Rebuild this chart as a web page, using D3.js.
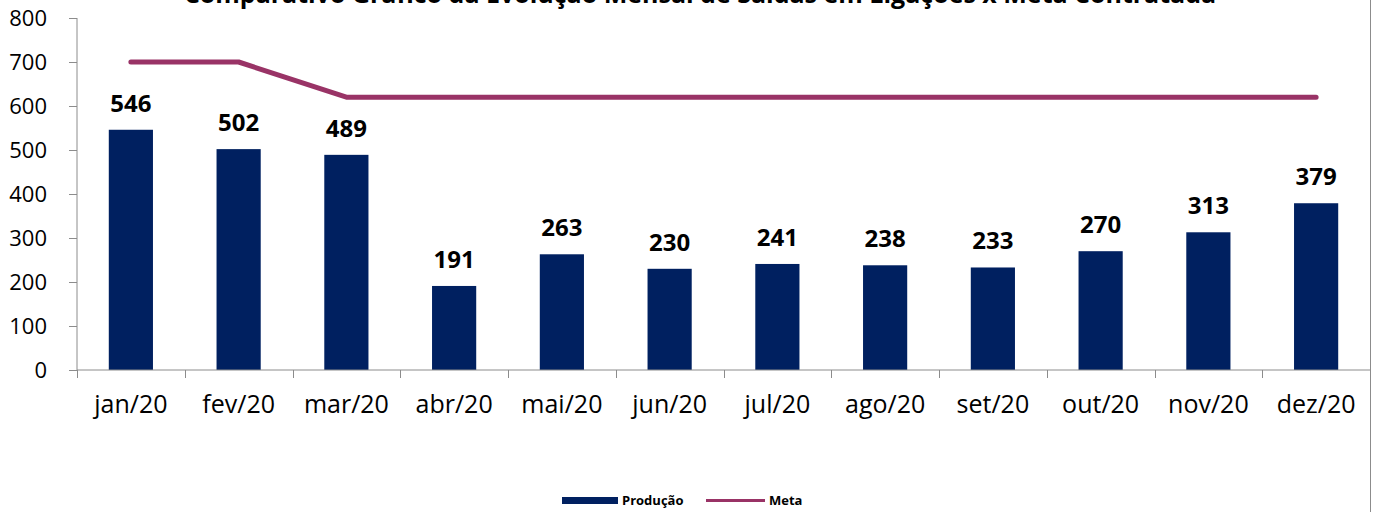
<!DOCTYPE html>
<html>
<head>
<meta charset="utf-8">
<script src="https://cdn.jsdelivr.net/npm/d3@7"></script>
<style>
  html, body { margin: 0; padding: 0; background: #fff; }
  svg { display: block; }
</style>
</head>
<body>
<div id="chart"></div>
<script>
var months   = ["jan/20", "fev/20", "mar/20", "abr/20", "mai/20", "jun/20",
                "jul/20", "ago/20", "set/20", "out/20", "nov/20", "dez/20"];
var producao = [546, 502, 489, 191, 263, 230, 241, 238, 233, 270, 313, 379];
var meta     = [700, 700, 620, 620, 620, 620, 620, 620, 620, 620, 620, 620];
var yTicks   = [0, 100, 200, 300, 400, 500, 600, 700, 800];

var width = 1376, height = 512;
var margin = { left: 77, right: 6, top: 18, bottom: 142 };
var font = "'Open Sans', 'Liberation Sans', Arial, sans-serif";

var svg = d3.select("#chart").append("svg")
  .attr("width", width)
  .attr("height", height);

var x = d3.scaleBand()
  .domain(months)
  .range([margin.left, width - margin.right])
  .paddingInner(0.59)
  .paddingOuter(0.295);

var y = d3.scaleLinear()
  .domain([0, 800])
  .range([height - margin.bottom, margin.top]);

// title (mostly cut off at the top, as in the source)
svg.append("text")
  .attr("x", 700).attr("y", 3)
  .attr("text-anchor", "middle")
  .attr("font-family", font)
  .attr("font-weight", "bold")
  .attr("font-size", "25px")
  .attr("fill", "#000")
  .text("Comparativo Gráfico da Evolução Mensal de Saídas em Ligações x Meta Contratada");

// chart border on the right
svg.append("line")
  .attr("x1", 1370.5).attr("x2", 1370.5)
  .attr("y1", 0).attr("y2", height)
  .attr("stroke", "#8c8c8c").attr("stroke-width", 1);

// bars
svg.append("g")
  .selectAll("rect")
  .data(producao)
  .enter().append("rect")
  .attr("x", function(d, i) { return x(months[i]); })
  .attr("y", function(d) { return y(d); })
  .attr("width", x.bandwidth())
  .attr("height", function(d) { return y(0) - y(d); })
  .attr("fill", "#002060");

// value labels
svg.append("g")
  .selectAll("text")
  .data(producao)
  .enter().append("text")
  .attr("x", function(d, i) { return x(months[i]) + x.bandwidth() / 2; })
  .attr("y", function(d) { return y(d) - 18; })
  .attr("text-anchor", "middle")
  .attr("font-family", font)
  .attr("font-weight", "bold")
  .attr("font-size", "24px")
  .attr("fill", "#000")
  .text(function(d) { return d; });

// meta line
var line = d3.line()
  .x(function(d, i) { return x(months[i]) + x.bandwidth() / 2; })
  .y(function(d) { return y(d); });

svg.append("path")
  .datum(meta)
  .attr("d", line)
  .attr("fill", "none")
  .attr("stroke", "#993366")
  .attr("stroke-width", 5)
  .attr("stroke-linecap", "round")
  .attr("stroke-linejoin", "round");

// y axis
var yAxis = svg.append("g")
  .attr("transform", "translate(" + margin.left + ",0)")
  .call(d3.axisLeft(y).tickValues(yTicks).tickSize(8).tickPadding(22));
yAxis.select(".domain").attr("stroke", "#8c8c8c").attr("d", "M0," + y(800) + "V" + y(0));
yAxis.selectAll(".tick line").attr("stroke", "#8c8c8c");
yAxis.selectAll("text")
  .attr("font-family", font)
  .attr("font-size", "22px")
  .attr("fill", "#000");

// x axis
var xAxis = svg.append("g")
  .attr("transform", "translate(0," + y(0) + ")")
  .call(d3.axisBottom(x).tickSize(0).tickPadding(25));
xAxis.select(".domain").attr("stroke", "#8c8c8c")
  .attr("d", "M" + margin.left + ",0H" + 1370);
xAxis.selectAll("text")
  .attr("font-family", font)
  .attr("font-size", "25px")
  .attr("fill", "#000");

// category separators on the x axis
var step = x.step();
svg.append("g")
  .selectAll("line")
  .data(months)
  .enter().append("line")
  .attr("x1", function(d) { return Math.round(x(d) - x.paddingOuter() * step) + 0.5; })
  .attr("x2", function(d) { return Math.round(x(d) - x.paddingOuter() * step) + 0.5; })
  .attr("y1", y(0)).attr("y2", y(0) + 8)
  .attr("stroke", "#8c8c8c");

// legend
var legend = svg.append("g").attr("font-family", font)
  .attr("font-size", "13px").attr("font-weight", "bold");
legend.append("rect")
  .attr("x", 562).attr("y", 497).attr("width", 56).attr("height", 7)
  .attr("fill", "#002060");
legend.append("text").attr("x", 622).attr("y", 505).text("Produção");
legend.append("line")
  .attr("x1", 706).attr("x2", 765).attr("y1", 500.5).attr("y2", 500.5)
  .attr("stroke", "#993366").attr("stroke-width", 3);
legend.append("text").attr("x", 769).attr("y", 505).text("Meta");
</script>
</body>
</html>
